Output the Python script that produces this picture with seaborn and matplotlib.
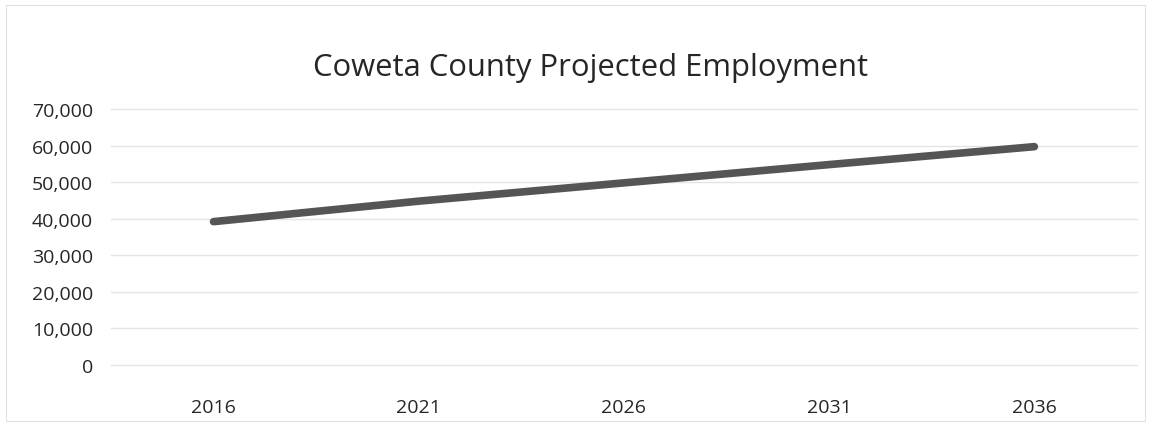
import matplotlib
matplotlib.use("Agg")
import matplotlib.pyplot as plt
import seaborn as sns
import pandas as pd
from matplotlib.ticker import FuncFormatter, MultipleLocator
from matplotlib.patches import Rectangle

# Projected employment, Coweta County
years = ["2016", "2021", "2026", "2031", "2036"]
employment = [39200, 44800, 49800, 54800, 59700]

title = "Coweta County Projected Employment"

sns.set_theme(style="white")
plt.rcParams["font.family"] = ["Open Sans", "DejaVu Sans"]

df = pd.DataFrame({"year": years, "employment": employment})

fig = plt.figure(figsize=(11.51, 4.31), dpi=100)
ax = fig.add_axes([0.0964, 0.1508, 0.8914, 0.594])

sns.lineplot(data=df, x="year", y="employment", ax=ax, color="#555555",
             linewidth=5.5, solid_capstyle="round", sort=False)

ax.set_xlim(-0.5, len(years) - 0.5)
ax.set_ylim(0, 70000)
ax.yaxis.set_major_locator(MultipleLocator(10000))
ax.yaxis.set_major_formatter(FuncFormatter(lambda v, _: f"{int(v):,}"))

ax.grid(axis="y", color="#e4e4e4", linewidth=1.0)
ax.grid(axis="x", visible=False)
for gl in ax.get_ygridlines():
    gl.set_clip_on(False)
for s in ax.spines.values():
    s.set_visible(False)

ax.set_xlabel("")
ax.set_ylabel("")
ax.tick_params(axis="y", length=0, pad=13, labelsize=14, labelcolor="#262626")
ax.tick_params(axis="x", length=0, pad=24, labelsize=14, labelcolor="#262626")

fig.text(0.5135, 0.842, title, ha="center", va="center", fontsize=22.3,
         color="#262626")

# light outer frame of the chart area
fig.patches.append(Rectangle((0.005, 0.02), 0.99, 0.965, transform=fig.transFigure,
                             fill=False, edgecolor="#e2e2e2", linewidth=0.8))

fig.savefig("out.png", dpi=100, facecolor="white")
